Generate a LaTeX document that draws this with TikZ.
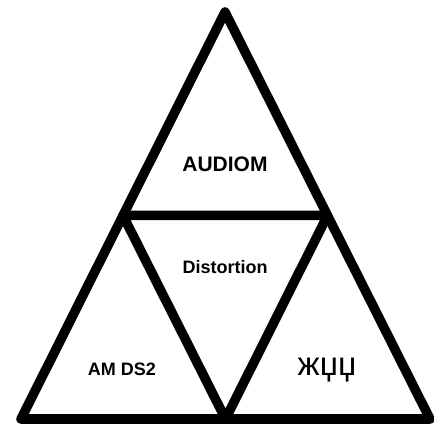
\documentclass[tikz,border=0pt]{standalone}
\usepackage{fontspec}
\setmainfont{Liberation Sans}

\begin{document}
\begin{tikzpicture}[x=1pt,y=-1pt]
  \tikzstyle{EdgeStyle}=[line width=9.5pt,line join=round]
  \tikzstyle{LabelStyle}=[anchor=base,inner sep=0pt,font=\bfseries\fontsize{18}{20}\selectfont]
  \useasboundingbox (0,0) rectangle (434,430);
  % outer corners
  \coordinate (T) at (225,12);
  \coordinate (L) at (21,419);
  \coordinate (R) at (430,419);
  % midpoints
  \coordinate (ML) at (123,215.5);
  \coordinate (MR) at (327.5,215.5);
  \coordinate (MB) at (225.5,419);
  \draw[EdgeStyle] (T) -- (L) -- (R) -- cycle;
  \draw[EdgeStyle] (ML) -- (MR) -- (MB) -- cycle;
  \node[LabelStyle,font=\bfseries\fontsize{21}{24}\selectfont] (audiom) at (225,172) {AUDIOM};
  \node[LabelStyle] (dist) at (225,274) {Distortion};
  \node[LabelStyle] (amds) at (122,376) {AM DS2};
  \node[LabelStyle,font=\fontsize{33}{36}\selectfont] (cyr) at (327,376) {жџџ};
\end{tikzpicture}
\end{document}
